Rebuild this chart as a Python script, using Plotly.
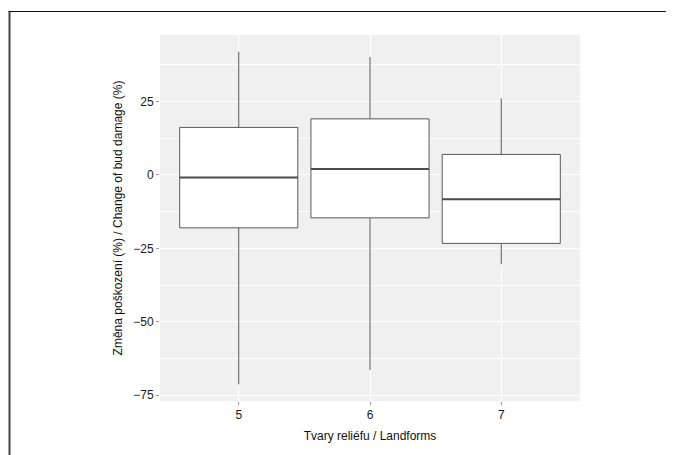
import plotly.graph_objects as go

categories = [5, 6, 7]
q1 = [-18.0, -14.6, -23.3]
median = [-0.9, 2.0, -8.3]
q3 = [16.2, 19.1, 7.0]
lower = [-71.3, -66.4, -30.4]
upper = [42.0, 40.2, 26.1]
y_ticks = [-75, -50, -25, 0, 25]

OFF = 8  # page body margin
W, H = 674 - OFF, 455 - OFF
L, R, T, B = 160 - OFF, 580 - OFF, 35 - OFF, 401 - OFF

fig = go.Figure()
fig.add_trace(go.Box(
    x=categories, q1=q1, median=median, q3=q3,
    lowerfence=lower, upperfence=upper,
    width=0.9, whiskerwidth=0, fillcolor="white",
    line=dict(color="#595959", width=1), boxpoints=False,
    hoverinfo="skip", showlegend=False,
))
# thicker median lines (ggplot fatten)
for c, m in zip(categories, median):
    fig.add_trace(go.Scatter(x=[c - 0.45, c + 0.45], y=[m, m], mode="lines",
                             line=dict(color="#4d4d4d", width=2),
                             hoverinfo="skip", showlegend=False))

font = dict(family="Liberation Sans, Arial, sans-serif", size=12, color="#1a1a1a")
fig.update_layout(
    width=W, height=H,
    margin=dict(l=L, r=W - R, t=T, b=H - B),
    paper_bgcolor="white", plot_bgcolor="#f0f0f0",
    font=font,
    xaxis=dict(range=[4.4, 7.6], tickvals=categories, ticktext=[str(c) for c in categories],
               showgrid=True, gridcolor="white", gridwidth=1, zeroline=False,
               ticks="outside", ticklen=3, tickcolor="#999",
               title=dict(text="Tvary reliéfu / Landforms", standoff=10,
                          font=dict(size=12, color="#111")),
               tickfont=dict(size=12, color="#1a1a1a")),
    yaxis=dict(range=[-76.97, 47.67], tickvals=y_ticks,
               showgrid=True, gridcolor="white", gridwidth=1, zeroline=False,
               ticks="outside", ticklen=3, tickcolor="#999",
               minor=dict(tickvals=[-62.5, -37.5, -12.5, 12.5, 37.5], showgrid=True,
                          gridcolor="white", gridwidth=0.5, ticks=""),
               title=dict(text="Změna poškození (%) / Change of bud damage (%)",
                          standoff=8, font=dict(size=12, color="#111")),
               tickfont=dict(size=12, color="#1a1a1a")),
)

# outer frame (left and top edges visible)
def px(x):
    return (x - L) / (R - L)

def py(y):
    return (B - y) / (B - T)

fig.add_shape(type="line", xref="paper", yref="paper",
              x0=px(1.5), x1=px(1.5), y0=py(3.5), y1=py(H + 10),
              line=dict(color="#444", width=2), layer="above")
fig.add_shape(type="line", xref="paper", yref="paper",
              x0=px(0.5), x1=px(W + 10), y0=py(3.5), y1=py(3.5),
              line=dict(color="#111", width=1.2), layer="above")

fig.write_html("out.html")
